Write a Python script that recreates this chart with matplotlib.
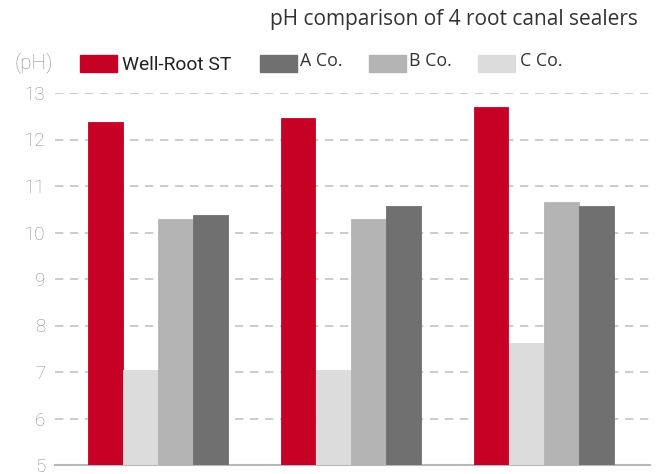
import numpy as np
import matplotlib.pyplot as plt
from matplotlib.patches import Rectangle

# ── data ------------------------------------------------------------------- #
groups = ["1", "2", "3"]
well_root = [12.38, 12.46, 12.70]
c_co = [7.05, 7.05, 7.62]
b_co = [10.28, 10.28, 10.66]
a_co = [10.37, 10.57, 10.57]
yticks = [5, 6, 7, 8, 9, 10, 11, 12, 13]
labels = ["Well-Root ST", "A Co.", "B Co.", "C Co."]

RED, A_COL, B_COL, C_COL = "#C70025", "#707070", "#B4B4B4", "#DCDCDC"
W, H = 660, 474

plt.rcParams["font.family"] = ["Open Sans", "DejaVu Sans"]

fig = plt.figure(figsize=(6.6, 4.74), dpi=100)
ax = fig.add_axes([55 / W, 1 - 465 / H, 595 / W, 372 / H])

x = np.arange(len(groups))
w = 0.182
# drawing order inside each group: Well-Root, C, B, A
for i, (vals, col) in enumerate([(well_root, RED), (c_co, C_COL), (b_co, B_COL), (a_co, A_COL)]):
    ax.bar(x + (i - 1.5) * w, np.array(vals) - 5, bottom=5, width=w * 0.98,
           color=col, edgecolor=col, linewidth=0.6, zorder=3)

ax.set_ylim(5, 13)
ax.set_xlim(-0.534, 2.55)
ax.set_yticks(yticks)
ax.set_yticklabels([str(t) for t in yticks], fontsize=13.5, color="#8C8C8C",
                   fontfamily=["Roboto", "DejaVu Sans"], fontweight="light")
ax.set_xticks([])
ax.tick_params(axis="y", length=0, pad=7)
for t in yticks[1:]:
    ax.axhline(t, color="#C4C4C4", lw=1.2, ls=(0, (5, 4)), zorder=1)
for s in ["top", "right", "left"]:
    ax.spines[s].set_visible(False)
ax.spines["bottom"].set_color("#B8B8B8")
ax.spines["bottom"].set_linewidth(1.5)

# ── title + legend --------------------------------------------------------- #
fig.text(638 / W, 1 - 20 / H, "pH comparison of 4 root canal sealers", ha="right", va="center",
         fontsize=15, color="#333333")
fig.text(14 / W, 1 - 63 / H, "(pH)", ha="left", va="center", fontsize=15, color="#8C8C8C",
         fontfamily=["Roboto", "DejaVu Sans"], fontweight="light")

# legend built by hand so patches and labels sit where the original has them
patch_x = [80, 260, 369, 478]
text_x = [122, 300, 409, 520]
for lab, col, px, tx in zip(labels, [RED, A_COL, B_COL, C_COL], patch_x, text_x):
    fig.add_artist(Rectangle((px / W, 1 - 72 / H), 37 / W, 17 / H,
                             transform=fig.transFigure, color=col))
    if lab == "Well-Root ST":
        fig.text(tx / W, 1 - 65 / H, lab, ha="left", va="center", fontsize=13.8,
                 color="#222222", fontfamily=["Roboto", "DejaVu Sans"])
    else:
        fig.text(tx / W, 1 - 61 / H, lab, ha="left", va="center", fontsize=12.8,
                 color="#333333")

fig.savefig("out.png", dpi=100)
